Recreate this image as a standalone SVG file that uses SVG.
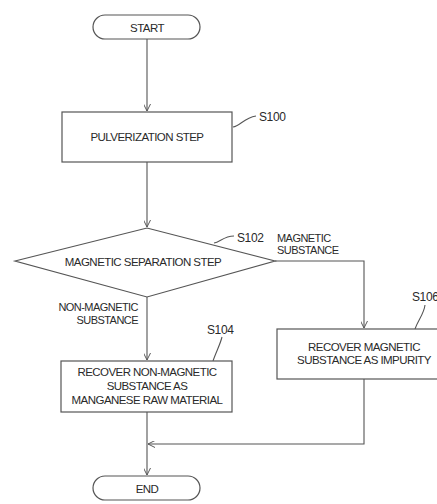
<svg xmlns="http://www.w3.org/2000/svg" width="437" height="504" viewBox="0 0 437 504">
<defs>
<style>
.box{fill:#fff;stroke:#555;stroke-width:1.2}
.ln{fill:none;stroke:#555;stroke-width:1.1}
.t{font-family:"Liberation Sans",Arial,sans-serif;font-size:11.5px;fill:#2a2a2a;text-anchor:middle;letter-spacing:-0.55px}
.lb{font-family:"Liberation Sans",Arial,sans-serif;font-size:12px;fill:#2a2a2a;letter-spacing:-0.4px}
.sm{font-family:"Liberation Sans",Arial,sans-serif;font-size:11px;fill:#2a2a2a;letter-spacing:-0.55px}
</style>
<marker id="arr" viewBox="0 0 10 10" refX="10" refY="5" markerWidth="7" markerHeight="7" orient="auto" markerUnits="userSpaceOnUse">
<path d="M0,0 L10,5 L0,10" fill="none" stroke="#555" stroke-width="1.4"/>
</marker>
</defs>
<rect width="437" height="504" fill="#fff"/>
<g id="connectors">
<line class="ln" x1="147" y1="39" x2="147" y2="111" marker-end="url(#arr)"/>
<line class="ln" x1="147" y1="162" x2="147" y2="227" marker-end="url(#arr)"/>
<polyline class="ln" points="275,261 364,261 364,328" marker-end="url(#arr)"/>
<line class="ln" x1="147" y1="297" x2="147" y2="360" marker-end="url(#arr)"/>
<polyline class="ln" points="364,379 364,444 148,444" marker-end="url(#arr)"/>
<line class="ln" x1="147" y1="412" x2="147" y2="475" marker-end="url(#arr)"/>
<path class="ln" d="M233,127 C240,126 244,118 256,116"/>
<path class="ln" d="M214,243 C220,242 224,236 234,236"/>
<path class="ln" d="M213,361 C216,352 220,345 222,337"/>
<path class="ln" d="M415,329 C418,320 424,314 425,305"/>
</g>
<g id="start">
<rect class="box" x="93" y="15" width="107" height="24" rx="12"/>
<text class="t" x="147" y="31.5">START</text>
</g>
<g id="s100">
<rect class="box" x="62" y="112" width="170" height="50"/>
<text class="t" x="147" y="141">PULVERIZATION STEP</text>
<text class="lb" x="259" y="121">S100</text>
</g>
<g id="s102">
<polygon class="box" points="15,261 147,228 275,261 147,297"/>
<text class="t" x="143" y="266">MAGNETIC SEPARATION STEP</text>
<text class="lb" x="237" y="242">S102</text>
<text class="sm" x="277" y="242">MAGNETIC</text>
<text class="sm" x="277" y="254">SUBSTANCE</text>
<text class="sm" x="138" y="311" text-anchor="end">NON-MAGNETIC</text>
<text class="sm" x="138" y="324" text-anchor="end">SUBSTANCE</text>
</g>
<g id="s104">
<rect class="box" x="61" y="361" width="171" height="51"/>
<text class="t" x="147" y="376">RECOVER NON-MAGNETIC</text>
<text class="t" x="147" y="390">SUBSTANCE AS</text>
<text class="t" x="147" y="404">MANGANESE RAW MATERIAL</text>
<text class="lb" x="207" y="334">S104</text>
</g>
<g id="s106">
<rect class="box" x="277" y="329" width="172" height="50"/>
<text class="t" x="364" y="351">RECOVER MAGNETIC</text>
<text class="t" x="364" y="364">SUBSTANCE AS IMPURITY</text>
<text class="lb" x="412" y="301">S106</text>
</g>
<g id="end">
<rect class="box" x="93" y="476" width="107" height="24" rx="12"/>
<text class="t" x="147" y="492.5">END</text>
</g>
</svg>
